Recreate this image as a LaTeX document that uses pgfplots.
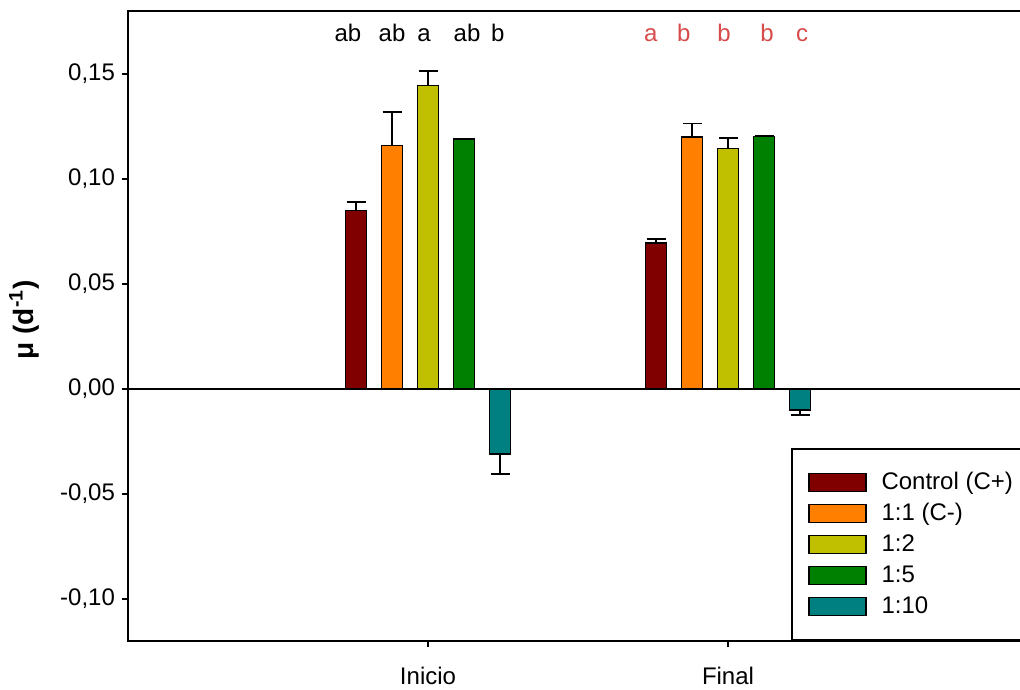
\documentclass[border=0pt]{standalone}
\usepackage{fontspec}
\setmainfont{Liberation Sans}
\usepackage{pgfplots}
\pgfplotsset{compat=1.18}
\definecolor{cC}{RGB}{128,0,0}
\definecolor{cA}{RGB}{255,128,0}
\definecolor{cB}{RGB}{192,192,0}
\definecolor{cD}{RGB}{0,128,0}
\definecolor{cE}{RGB}{0,128,128}
\definecolor{lred}{RGB}{215,75,75}
\newcommand\f{\fontsize{12}{14.4}\selectfont}
\begin{document}
\begin{tikzpicture}
\begin{axis}[
  scale only axis, width=450pt, height=315pt,
  xmin=0, xmax=3, ymin=-0.12, ymax=0.18,
  ybar, bar width=0.07,
  axis line style={line width=1pt},
  xtick={1,2}, xticklabels={Inicio,Final},
  ytick={-0.10,-0.05,0,0.05,0.10,0.15},
  y tick label style={/pgf/number format/.cd, fixed, fixed zerofill, precision=2, use comma, assume math mode=true, /tikz/.cd},
  x tick label style={yshift=-6.5pt},
  tick pos=left, tick align=outside, major tick length=3pt,
  tick style={black, line width=0.75pt},
  every tick label/.append style={font=\f},
  clip=false,
  ylabel={\textbf{μ (d\textsuperscript{-1})}},
  every axis y label/.style={at={(axis description cs:-0.1156,0.51)}, rotate=90, anchor=center, font=\fontsize{14}{16.8}\selectfont},
  legend cell align=left,
  legend style={at={(axis description cs:0.7367,0)}, anchor=south west, draw=black, line width=1pt, fill=white,
    inner xsep=8pt, inner ysep=9pt, row sep=0pt, column sep=7.5pt,
    nodes={inner sep=0pt, minimum height=15.5pt, font=\f}, cells={anchor=west}},
  legend image code/.code={\draw[#1,/tikz/.cd,line width=0.75pt] (0pt,-4.5pt) rectangle (28.5pt,4.5pt);},
  error bars/error bar style={black, line width=0.75pt},
  error bars/error mark options={rotate=90, mark size=4.75pt, black, line width=0.75pt},
]
\coordinate (sw) at (rel axis cs:0,0);
\coordinate (ne) at (rel axis cs:1,1);
\draw[black, line width=0.75pt] (axis cs:0,0) -- (axis cs:3,0);

\addplot[fill=cC, draw=black, line width=0.75pt, bar shift=-0.24,
  error bars/.cd, y dir=plus, y explicit]
  coordinates {(1,0.085) +- (0,0.004) (2,0.0695) +- (0,0.002)};
\addlegendentry{\makebox[70pt][l]{Control (C+)}}
\addplot[fill=cA, draw=black, line width=0.75pt, bar shift=-0.12,
  error bars/.cd, y dir=plus, y explicit]
  coordinates {(1,0.116) +- (0,0.016) (2,0.120) +- (0,0.0064)};
\addlegendentry{1:1 (C-)}
\addplot[fill=cB, draw=black, line width=0.75pt, bar shift=0,
  error bars/.cd, y dir=plus, y explicit]
  coordinates {(1,0.1445) +- (0,0.007) (2,0.1145) +- (0,0.005)};
\addlegendentry{1:2}
\addplot[fill=cD, draw=black, line width=0.75pt, bar shift=0.12,
  error bars/.cd, y dir=plus, y explicit]
  coordinates {(1,0.119) +- (0,0) (2,0.1203) +- (0,0.0004)};
\addlegendentry{1:5}
\addplot[fill=cE, draw=black, line width=0.75pt, bar shift=0.24,
  error bars/.cd, y dir=minus, y explicit]
  coordinates {(1,-0.031) +- (0,0.0095) (2,-0.0101) +- (0,0.0023)};
\addlegendentry{1:10}

\node[font=\f, anchor=base] at (axis cs:0.733,0.1657) {ab};
\node[font=\f, anchor=base] at (axis cs:0.880,0.1657) {ab};
\node[font=\f, anchor=base] at (axis cs:0.987,0.1657) {a};
\node[font=\f, anchor=base] at (axis cs:1.130,0.1657) {ab};
\node[font=\f, anchor=base] at (axis cs:1.233,0.1657) {b};
\node[font=\f, anchor=base, text=lred] at (axis cs:1.743,0.1657) {a};
\node[font=\f, anchor=base, text=lred] at (axis cs:1.853,0.1657) {b};
\node[font=\f, anchor=base, text=lred] at (axis cs:1.987,0.1657) {b};
\node[font=\f, anchor=base, text=lred] at (axis cs:2.130,0.1657) {b};
\node[font=\f, anchor=base, text=lred] at (axis cs:2.247,0.1657) {c};
\end{axis}
\pgfresetboundingbox
\path[use as bounding box] ([xshift=-64pt,yshift=-24pt]sw) rectangle ([xshift=-4pt,yshift=5.5pt]ne);
\end{tikzpicture}
\end{document}
